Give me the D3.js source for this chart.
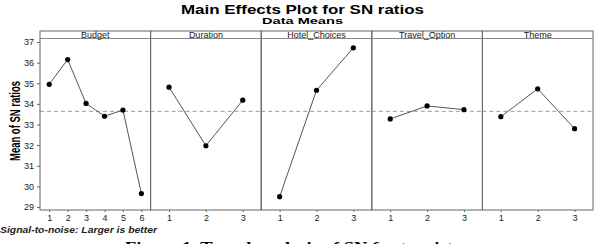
<!DOCTYPE html>
<html>
<head>
<meta charset="utf-8">
<script src="https://cdn.jsdelivr.net/npm/d3@7"></script>
<style>
  body { margin: 0; background: #fff; }
  svg { display: block; font-family: Arial, "Liberation Sans", sans-serif; }
</style>
</head>
<body>
<div id="chart"></div>
<script>
const factors = ["Budget", "Duration", "Hotel_Choices", "Travel_Option", "Theme"]
const levels = [
    ["1", "2", "3", "4", "5", "6"],
    ["1", "2", "3"],
    ["1", "2", "3"],
    ["1", "2", "3"],
    ["1", "2", "3"]
]
const snMeans = [
    [34.95, 36.15, 34.02, 33.4, 33.7, 29.65],
    [34.81, 31.97, 34.18],
    [29.5, 34.66, 36.72],
    [33.27, 33.9, 33.72],
    [33.38, 34.73, 32.8]
]
const yTicks = [29, 30, 31, 32, 33, 34, 35, 36, 37]
const grandMean = 33.64

const width = 597
const height = 244
const plot = { left: 40, right: 593, top: 31, stripBottom: 38.5, bottom: 210 }

const svg = d3.select("#chart")
    .append("svg")
    .attr("width", width)
    .attr("height", height)

// titles
svg.append("text")
    .attr("x", 181).attr("y", 13.5)
    .attr("textLength", 243).attr("lengthAdjust", "spacingAndGlyphs")
    .style("font-size", "12.5px").style("font-weight", "bold")
    .text("Main Effects Plot for SN ratios")
svg.append("text")
    .attr("x", 262).attr("y", 24)
    .attr("textLength", 81).attr("lengthAdjust", "spacingAndGlyphs")
    .style("font-size", "9px").style("font-weight", "bold")
    .text("Data Means")

const yScale = d3.scaleLinear()
    .domain([29, 37])
    .range([207, 42])

const panelScale = d3.scaleBand()
    .domain(factors)
    .range([plot.left, plot.right])

// y axis
const yAxis = svg.append("g")
    .attr("transform", `translate(${plot.left},0)`)
    .call(d3.axisLeft(yScale).tickValues(yTicks).tickSize(3).tickPadding(3))
yAxis.select(".domain").remove()
yAxis.selectAll("line").attr("stroke", "#666")
yAxis.selectAll("text")
    .style("font-size", "9px").style("font-family", "Arial, sans-serif")
    .attr("fill", "#222")

svg.append("text")
    .attr("transform", `translate(19.5,121) rotate(-90)`)
    .attr("x", -40)
    .attr("textLength", 80).attr("lengthAdjust", "spacingAndGlyphs")
    .style("font-size", "14px").style("font-weight", "bold")
    .text("Mean of SN ratios")

// panels
factors.forEach((f, i) => {
    const x0 = panelScale(f)
    const x1 = x0 + panelScale.bandwidth()
    const g = svg.append("g")

    const xScale = d3.scalePoint()
        .domain(levels[i])
        .range([x0, x1])
        .padding(0.5)

    // reference line
    g.append("line")
        .attr("x1", x0).attr("x2", x1)
        .attr("y1", yScale(grandMean)).attr("y2", yScale(grandMean))
        .attr("stroke", "#999").attr("stroke-dasharray", "4,3")

    // strip
    g.append("rect")
        .attr("x", x0).attr("y", plot.top)
        .attr("width", x1 - x0).attr("height", plot.bottom - plot.top)
        .attr("fill", "none").attr("stroke", "#666")
    g.append("line")
        .attr("x1", x0).attr("x2", x1)
        .attr("y1", plot.stripBottom).attr("y2", plot.stripBottom)
        .attr("stroke", "#888")
    g.append("text")
        .attr("x", (x0 + x1) / 2).attr("y", 37.5)
        .attr("text-anchor", "middle")
        .style("font-size", "9px")
        .attr("fill", "#222")
        .text(f)

    // x axis
    const xAxis = g.append("g")
        .attr("transform", `translate(0,${plot.bottom})`)
        .call(d3.axisBottom(xScale).tickSize(2).tickPadding(3))
    xAxis.select(".domain").remove()
    xAxis.selectAll("line").attr("stroke", "#666")
    xAxis.selectAll("text")
        .style("font-size", "9px").style("font-family", "Arial, sans-serif")
        .attr("fill", "#222")

    const pts = levels[i].map((l, j) => ({ level: l, value: snMeans[i][j] }))

    g.append("path")
        .datum(pts)
        .attr("fill", "none")
        .attr("stroke", "#555")
        .attr("stroke-width", 1)
        .attr("d", d3.line().x(d => xScale(d.level)).y(d => yScale(d.value)))

    g.selectAll("circle")
        .data(pts)
        .join("circle")
        .attr("cx", d => xScale(d.level))
        .attr("cy", d => yScale(d.value))
        .attr("r", 2.6)
        .attr("fill", "#000")
})

svg.append("text")
    .attr("x", 0).attr("y", 232.5)
    .attr("textLength", 157).attr("lengthAdjust", "spacingAndGlyphs")
    .style("font-size", "9px").style("font-style", "italic").style("font-weight", "bold")
    .attr("fill", "#222")
    .text("Signal-to-noise: Larger is better")

// caption below the figure, cut off by the bottom edge as in the reference
svg.append("text")
    .attr("x", 125).attr("y", 252)
    .attr("textLength", 335).attr("lengthAdjust", "spacingAndGlyphs")
    .style("font-size", "15px").style("font-weight", "bold")
    .style("font-family", "'Liberation Serif', 'Times New Roman', serif")
    .text("Figure 1. Travel analysis of SN for tourists")
</script>
</body>
</html>
